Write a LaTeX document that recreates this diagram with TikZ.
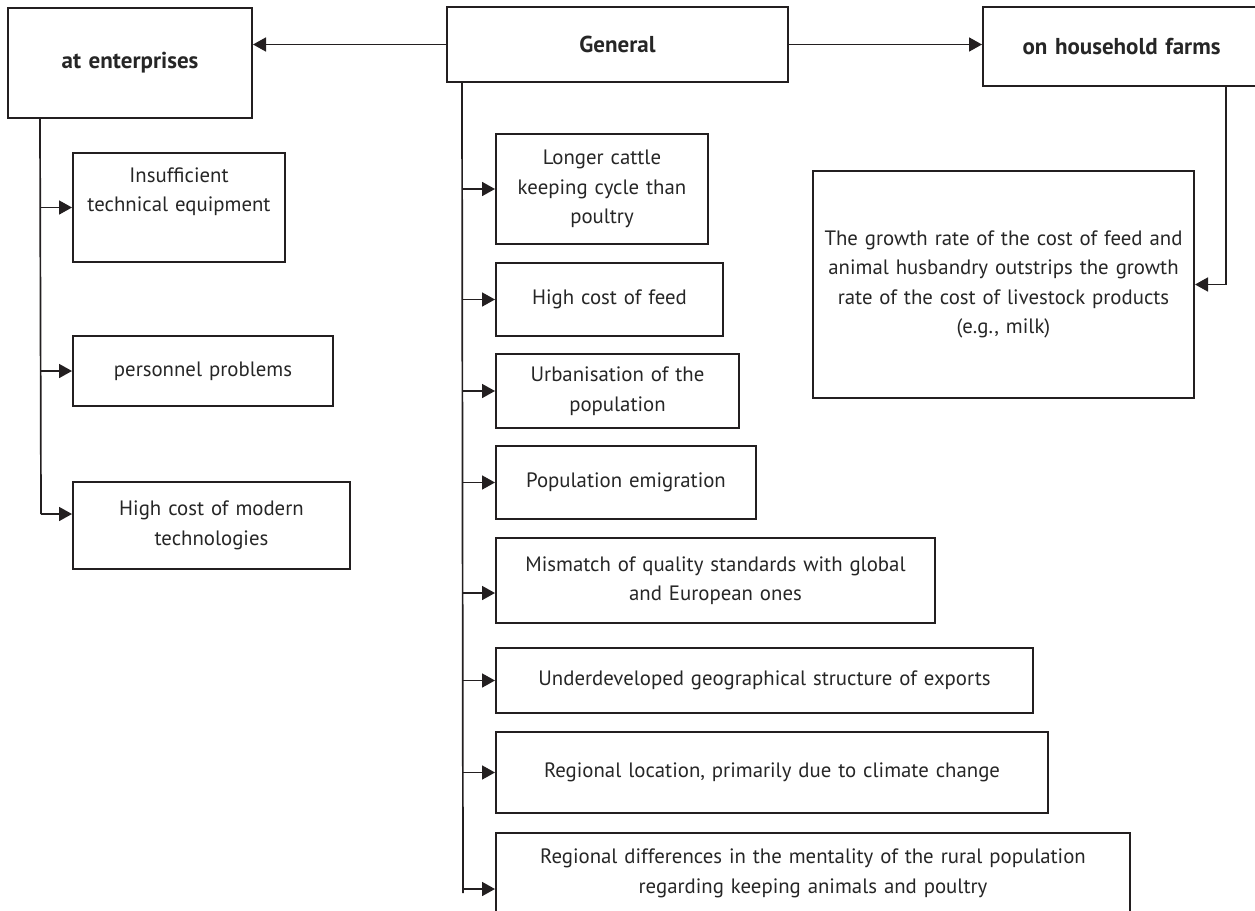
\documentclass[tikz,border=0pt]{standalone}
\usepackage{fontspec}
\setmainfont{PT Sans}
\usetikzlibrary{arrows.meta}
\definecolor{ln}{HTML}{231F20}
\definecolor{tx}{HTML}{262626}
\begin{document}
\begin{tikzpicture}[x=1pt,y=-1pt,
  box/.style={draw=ln,line width=2pt,rectangle,inner sep=0pt,align=center,text=tx,
    font=\fontsize{20.8}{29.5}\selectfont},
  bbox/.style={box,font=\fontsize{23}{29.5}\selectfont\bfseries},
  arr/.style={draw=ln,line width=1.7pt,-{Triangle[length=13pt,width=14pt]}},
  ln/.style={draw=ln,line width=1.7pt}]
\useasboundingbox (0,0) rectangle (1255,910);
\clip (0,0) rectangle (1255,910);
\node[bbox,minimum width=244pt,text width=244pt,minimum height=110pt] (ent) at (130,63) {at enterprises};
\node[bbox,minimum width=341pt,text width=341pt,minimum height=75pt] (gen) at (617.5,44.5) {General};
\node[bbox,minimum width=277pt,text width=277pt,minimum height=79pt] (hh) at (1121.5,46.5) {on household farms};
\node[box,minimum width=381pt,text width=381pt,minimum height=227pt] (big) at (1003.5,284.5)
  {The growth rate of the cost of feed and\\animal husbandry outstrips the growth\\rate of the cost of livestock products\\(e.g., milk)};
% enterprise children
\node[box,minimum width=212pt,text width=212pt,minimum height=109pt] (e1) at (179,207.5) {Insufficient\\technical equipment\\[6pt]~};
\node[box,minimum width=260pt,text width=260pt,minimum height=70pt] (e2) at (203,371) {personnel problems};
\node[box,minimum width=277pt,text width=277pt,minimum height=87pt] (e3) at (211.5,525.5) {High cost of modern\\technologies};
% general children
\node[box,minimum width=212pt,text width=212pt,minimum height=110pt] (g1) at (602,189) {Longer cattle\\keeping cycle than\\poultry};
\node[box,minimum width=227pt,text width=227pt,minimum height=73pt] (g2) at (609.5,299.5) {High cost of feed};
\node[box,minimum width=243pt,text width=243pt,minimum height=74pt] (g3) at (617.5,391) {Urbanisation of the\\population};
\node[box,minimum width=260pt,text width=260pt,minimum height=73pt] (g4) at (626,482.5) {Population emigration};
\node[box,minimum width=439pt,text width=439pt,minimum height=85pt] (g5) at (715.5,580.5) {Mismatch of quality standards with global\\and European ones};
\node[box,minimum width=537pt,text width=537pt,minimum height=65pt] (g6) at (764.5,680.5) {Underdeveloped geographical structure of exports};
\node[box,minimum width=552pt,text width=552pt,minimum height=81pt] (g7) at (772,772.5) {Regional location, primarily due to climate change};
\node[box,minimum width=634pt,text width=634pt,minimum height=81pt] (g8) at (813,873.5) {Regional differences in the mentality of the rural population\\regarding keeping animals and poultry};
% top arrows
\draw[arr] (gen.west) -- (gen.west -| ent.east);
\draw[arr] (gen.east) -- (gen.east -| hh.west);
% household branch
\coordinate (hhs) at ([xshift=244pt]hh.south west);
\draw[arr] (hhs) |- (big.east);
% enterprise spine
\coordinate (es) at ([xshift=33pt]ent.south west);
\coordinate (ee) at (41,514);
\draw[ln] (es) -- (ee);
\draw[arr] (e1.west -| es) -- (e1.west);
\draw[arr] (e2.west -| es) -- (e2.west);
\draw[arr] (ee) -- (ee -| e3.west);
% general spine
\coordinate (gs) at ([xshift=16pt]gen.south west);
\coordinate (ge) at (463,893);
\draw[ln] (gs) -- (ge);
\foreach \n in {g1,g2,g3,g4,g6,g7}{\draw[arr] (\n.west -| gs) -- (\n.west);}
\draw[arr] ([yshift=-12.5pt]g5.west -| gs) -- ([yshift=-12.5pt]g5.west);
\draw[arr] (463,889) -- (463,889 -| g8.west);
\end{tikzpicture}
\end{document}
